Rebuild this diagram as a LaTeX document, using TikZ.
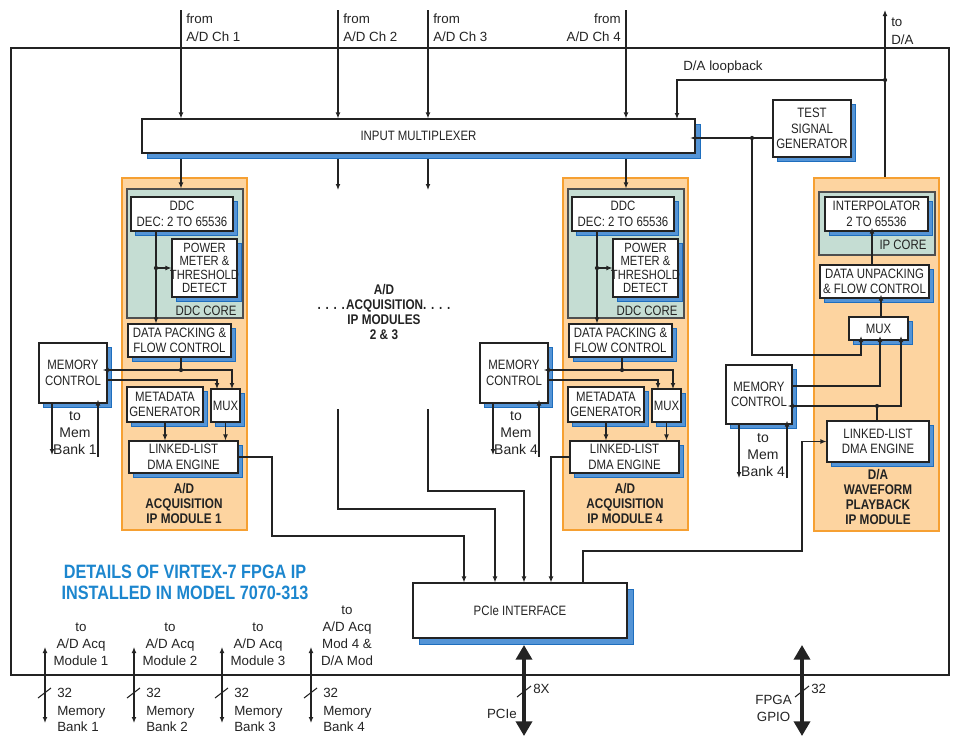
\documentclass[tikz,border=0pt]{standalone}
\usepackage{fontspec}
\setmainfont{Liberation Sans}
\newfontfamily\cnd{Liberation Sans}[FakeStretch=0.84]
\usetikzlibrary{arrows.meta,shadows,fit,calc}
\definecolor{shblue}{RGB}{84,148,214}
\definecolor{shedge}{RGB}{30,110,190}
\definecolor{orfill}{RGB}{253,212,160}
\definecolor{ordraw}{RGB}{246,160,50}
\definecolor{corefill}{RGB}{197,221,211}
\definecolor{ttlblue}{RGB}{28,134,206}
\definecolor{ink}{RGB}{35,35,35}
\tikzset{
 ln/.style={draw=ink, line width=0.8pt},
 arr/.style={ln, -{Latex[length=4.5pt,width=3.6pt]}},
 darr/.style={ln, {Latex[length=4.5pt,width=3.6pt]}-{Latex[length=4.5pt,width=3.6pt]}},
 bigarr/.style={draw=ink, line width=2.6pt, {Triangle[length=11pt,width=12pt]}-{Triangle[length=11pt,width=12pt]}},
 blk/.style={draw=ink, fill=white, line width=0.8pt, inner sep=0pt},
 shd/.style 2 args={drop shadow={shadow xshift=#1, shadow yshift=#2, fill=shblue, draw=shedge, line width=0.5pt, opacity=1}},
 btxt/.style={font=\cnd\fontsize{10.2}{11.6}\selectfont, align=center, inner sep=0pt, text=ink},
 modbox/.style={draw=ordraw, fill=orfill, line width=1.5pt, inner sep=0pt},
 corebox/.style={draw=ink!80, fill=corefill, line width=0.8pt, inner sep=0pt},
 modlbl/.style={font=\cnd\bfseries\fontsize{10.5}{11.25}\selectfont, align=center, inner sep=0pt, text=ink},
 lbl/.style={font=\fontsize{10}{12.75}\selectfont, align=center, inner sep=0pt, text=ink},
 dot/.style={circle, fill=ink, inner sep=0pt, minimum size=3.2pt},
}
\newcommand\blkbx[6][shd={3.6pt}{-3pt}]{%
 \node[blk,#1,fit={#3 #4}] (#2) {};
 \node[btxt,#5] (#2-t) at (#2.center) {#6};}
\newcommand\dotsrow{.\hspace{3.5pt}.\hspace{3.5pt}.\hspace{3.5pt}.}
\newcommand\admodule[4]{%
 \node[modbox, fit={({122+#2},178) ({247+#2},530)}] (mod#1) {};
 \node[corebox, fit={({127+#2},189) ({243+#2},318)}] (core#1) {};
 \node[btxt] (corel#1) at ({206+#2},311) {DDC CORE};
 \blkbx{ddc#1}{({131+#2},197)}{({233+#2},231)}{}{DDC\\DEC: 2 TO 65536}
 \blkbx{pm#1}{({172+#2},239)}{({237+#2},297)}{font=\cnd\fontsize{10}{10.2}\selectfont}{POWER\\METER \&\\THRESHOLD\\DETECT}
 \blkbx{dp#1}{({128+#2},324)}{({231+#2},357)}{}{DATA PACKING \&\\FLOW CONTROL}
 \blkbx{mem#1}{({39+#2},343)}{({107+#2},403)}{}{MEMORY\\CONTROL}
 \blkbx{meta#1}{({127+#2},387)}{({203+#2},422)}{}{METADATA\\GENERATOR}
 \blkbx{mux#1}{({211+#2},389)}{({240+#2},422)}{}{MUX}
 \blkbx{dma#1}{({129+#2},441)}{({238+#2},473)}{}{LINKED-LIST\\DMA ENGINE}
 \node[modlbl] (ml#1) at ({184+#2},503) {A/D\\ACQUISITION\\IP MODULE #3};
 \node[lbl, font=\fontsize{10.5}{12.75}\selectfont] (tm#1) at ({75+#2},433) {to\\Mem\\Bank #4};
 \node[dot] (da#1) at ({156+#2},268) {};
 \draw[arr] (ddc#1.south -| da#1) -- (dp#1.north -| da#1);
 \draw[arr] (da#1) -- (pm#1.west |- da#1);
 \node[dot] (db#1) at ({181+#2},370) {};
 \draw[ln] (dp#1.south -| db#1) -- (db#1);
 \draw[arr, shorten >=-3.6pt] (db#1) -- (mem#1.east |- db#1);
 \coordinate (mxa#1) at ({232+#2},389);
 \draw[arr] (db#1) -| (mxa#1);
 \coordinate (mo#1) at ({107+#2},380);
 \coordinate (mxb#1) at ({217+#2},389);
 \draw[arr] (mo#1) -| (mxb#1);
 \draw[arr] (meta#1.south) -- (meta#1.south |- dma#1.north);
 \draw[arr] (mux#1.south) -- (mux#1.south |- dma#1.north);
 \coordinate (mba#1) at ({52+#2},455);
 \draw[arr] (mem#1.south -| mba#1) -- (mba#1);
 \coordinate (mbb#1) at ({98+#2},457);
 \draw[arr, shorten >=-3pt] (mbb#1) -- (mem#1.south -| mbb#1);
}
\begin{document}
\begin{tikzpicture}[x=0.75pt,y=-0.75pt]
\useasboundingbox (0,0) rectangle (955,736);
\node[draw=ink, line width=1.1pt, inner sep=0pt, fit={(11,48) (949,675)}] (fpga) {};

% input multiplexer
\blkbx[shd={4pt}{-4pt}]{imux}{(142,119)}{(695,153)}{}{INPUT MULTIPLEXER}

% A/D modules 1 and 4
\admodule{1}{0}{1}{1}
\admodule{4}{441}{4}{4}

% D/A module
\node[modbox, fit={(814,178) (939,531)}] (modda) {};
\node[corebox, fit={(819,192) (935,255)}] (coreda) {};
\node[btxt] (coredal) at (903,245) {IP CORE};
\blkbx{interp}{(825,197)}{(928,231)}{}{INTERPOLATOR\\2 TO 65536}
\blkbx{unpack}{(820,265)}{(929,298)}{}{DATA UNPACKING\\\& FLOW CONTROL}
\blkbx{muxda}{(849,317)}{(908,340)}{}{MUX}
\blkbx{memda}{(726,365)}{(792,424)}{}{MEMORY\\CONTROL}
\blkbx{dmada}{(827,421)}{(929,462)}{}{LINKED-LIST\\DMA ENGINE}
\node[modlbl] (mlda) at (878,497) {D/A\\WAVEFORM\\PLAYBACK\\IP MODULE};
\node[lbl, font=\fontsize{10.5}{12.75}\selectfont] (tmda) at (763,455) {to\\Mem\\Bank 4};

\coordinate (cu) at (872,265);
\draw[arr, shorten >=-3pt] (cu) -- (interp.south -| cu);
\coordinate (cm) at (881,317);
\draw[arr, shorten >=-3pt] (cm) -- (unpack.south -| cm);
\node[dot] (dd) at (877,406) {};
\draw[ln] (dmada.north -| dd) -- (dd);
\draw[arr, shorten >=-3.6pt] (dd) -- (memda.east |- dd);
\coordinate (mi3) at (901,340);
\draw[arr, shorten >=-3pt] (dd) -| (mi3);
\coordinate (mi2) at (880,340);
\coordinate (mdo) at (792,386);
\draw[arr, shorten >=-3pt] (mdo) -| (mi2);
\coordinate (mdb1) at (739,478);
\draw[arr] (memda.south -| mdb1) -- (mdb1);
\coordinate (mdb2) at (787,478);
\draw[arr, shorten >=-3pt] (mdb2) -- (memda.south -| mdb2);

% test signal generator
\blkbx{tsg}{(773,100)}{(851,157)}{}{TEST\\SIGNAL\\GENERATOR}
\node[dot] (dt) at (752,138) {};
\draw[ln] (tsg.west |- dt) -- (dt);
\draw[arr, shorten >=-4pt] (dt) -- (imux.east |- dt);
\coordinate (ct) at (752,355);
\coordinate (mi1) at (861,340);
\draw[arr, shorten >=-3pt] (dt) -- (ct) -| (mi1);

% inputs from A/D
\coordinate (in1) at (181,10);
\coordinate (in2) at (338,10);
\coordinate (in3) at (428,10);
\coordinate (in4) at (626,10);
\foreach \i in {1,2,3,4} {\draw[arr] (in\i) -- (imux.north -| in\i);}
\node[lbl, anchor=west, align=left, font=\fontsize{10}{13.5}\selectfont] (f1) at (186,28) {from\\A/D Ch 1};
\node[lbl, anchor=west, align=left, font=\fontsize{10}{13.5}\selectfont] (f2) at (343,28) {from\\A/D Ch 2};
\node[lbl, anchor=west, align=left, font=\fontsize{10}{13.5}\selectfont] (f3) at (433,28) {from\\A/D Ch 3};
\node[lbl, anchor=east, align=right, font=\fontsize{10}{13.5}\selectfont] (f4) at (621,28) {from\\A/D Ch 4};

% multiplexer outputs
\draw[arr, shorten <=4pt] (imux.south -| in1) -- (core1.north -| in1);
\draw[arr, shorten <=4pt] (imux.south -| in4) -- (core4.north -| in4);
\coordinate (o2) at (338,190);
\coordinate (o3) at (428,190);
\draw[arr, shorten <=4pt] (imux.south -| o2) -- (o2);
\draw[arr, shorten <=4pt] (imux.south -| o3) -- (o3);

% D/A out and loopback
\coordinate (toda) at (885,10);
\draw[arr] (modda.north -| toda) -- (toda);
\node[lbl, anchor=west, align=left, font=\fontsize{10}{13.5}\selectfont] (todal) at (891,31) {to\\D/A};
\node[dot] (dl) at (885,80) {};
\coordinate (lbe) at (677,119);
\draw[arr] (dl) -| (lbe);
\node[lbl] (lbl) at (723,67) {D/A loopback};

% modules 2 & 3
\node[modlbl] (m23) at (384,312) {A/D\\\dotsrow\hspace{1pt}ACQUISITION.\hspace{3.5pt}.\hspace{3.5pt}.\hspace{3.5pt}.\\IP MODULES\\2 \& 3};

% PCIe interface
\blkbx[shd={4.5pt}{-5pt}]{pcie}{(413,583)}{(627,638)}{}{PCIe INTERFACE}
\coordinate (s2) at (338,409);
\coordinate (t2) at (495,509);
\draw[arr] (s2) |- (t2) -- (pcie.north -| t2);
\coordinate (s3) at (428,409);
\coordinate (t3) at (524,491);
\draw[arr] (s3) |- (t3) -- (pcie.north -| t3);
\coordinate (u1) at (272,536);
\coordinate (u1b) at (464,536);
\draw[arr] (dma1.east) -| (u1) -| (pcie.north -| u1b);
\coordinate (u4) at (551,456);
\draw[arr] (dma4.west) -| (pcie.north -| u4);
\coordinate (v1) at (583,551);
\coordinate (v2) at (802,551);
\draw[arr] (pcie.north -| v1) |- (v2) |- (dmada.west);

% title
\node[font=\cnd\bfseries\fontsize{14.5}{15.75}\selectfont, text=ttlblue, align=center, inner sep=0pt] (title) at (185,582) {DETAILS OF VIRTEX-7 FPGA IP\\INSTALLED IN MODEL 7070-313};

% memory bank connections
\foreach \x/\n in {45/1,134/2,222/3,311/4} {
 \coordinate (mt\n) at (\x,647);
 \coordinate (mk\n) at (\x,723);
 \draw[darr] (mt\n) -- (mk\n);
 \draw[ln] (\x-7,698) -- (\x+6,688);
 \node[lbl, anchor=west] (n32\n) at (\x+12,693) {32};
 \node[lbl, anchor=west, align=left, font=\fontsize{10}{12}\selectfont] (mbk\n) at (\x+12,719) {Memory\\Bank \n};
}
\node[lbl] (ta1) at (81,644) {to\\A/D Acq\\Module 1};
\node[lbl] (ta2) at (170,644) {to\\A/D Acq\\Module 2};
\node[lbl] (ta3) at (258,644) {to\\A/D Acq\\Module 3};
\node[lbl] (ta4) at (347,636) {to\\A/D Acq\\Mod 4 \&\\D/A Mod};

% PCIe and GPIO
\coordinate (pct) at (524,645);
\coordinate (pcb) at (524,736);
\draw[bigarr] (pct) -- (pcb);
\draw[ln] (517,697) -- (531,686);
\node[lbl, anchor=west] (l8x) at (533,689) {8X};
\node[lbl, anchor=east] (lpcie) at (517,714) {PCIe};
\coordinate (gpt) at (802,645);
\coordinate (gpb) at (802,736);
\draw[bigarr] (gpt) -- (gpb);
\draw[ln] (795,697) -- (809,686);
\node[lbl, anchor=west] (l32g) at (811,689) {32};
\node[lbl, anchor=east] (lgpio) at (792,708) {FPGA\\GPIO};
\end{tikzpicture}
\end{document}
